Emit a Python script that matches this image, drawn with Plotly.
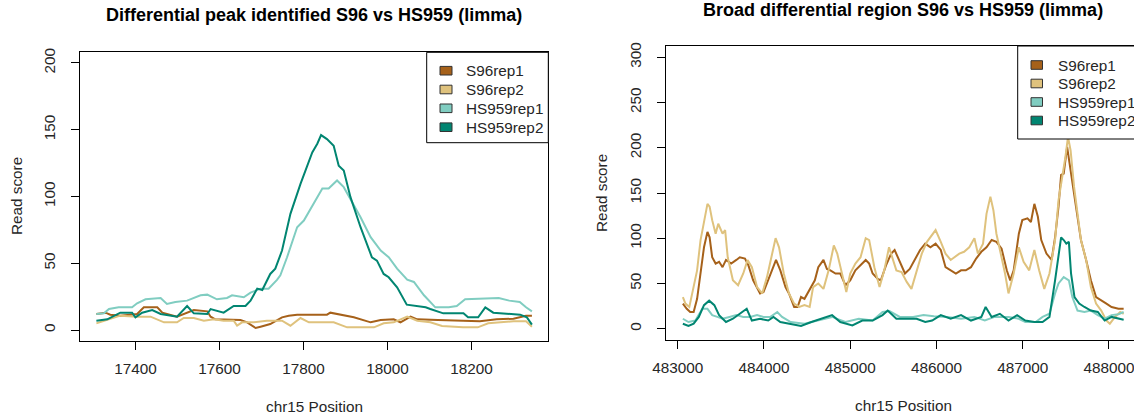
import plotly.graph_objects as go

# ---------------- data: left panel (differential peak) ----------------
left_title = "Differential peak identified S96 vs HS959 (limma)"
right_title = "Broad differential region S96 vs HS959 (limma)"
series_names = ["S96rep1", "S96rep2", "HS959rep1", "HS959rep2"]
series_colors = ["#A6611A", "#DFC27D", "#80CDC1", "#018571"]

l_s1_x = [17307, 17329, 17340, 17364, 17404, 17420, 17452, 17464, 17499, 17523, 17539, 17571, 17579, 17590,
          17650, 17666, 17686, 17698, 17721, 17749, 17765, 17785, 17856, 17864, 17888, 17920, 17960, 17984,
          18015, 18031, 18055, 18071, 18120, 18190, 18220, 18260, 18300, 18330, 18344]
l_s1_y = [12, 13, 11.5, 10.75, 12, 17, 17, 13, 10, 13, 15, 14, 10, 8,
          7.5, 5.75, 1.5, 2.5, 4.5, 9.5, 10.75, 11.5, 11.5, 13, 11.5, 9.5, 5.75, 7.5,
          8, 5.75, 10, 8, 7.5, 6.5, 6.5, 8, 8.5, 10.75, 10.75]

l_s2_x = [17307, 17340, 17364, 17404, 17436, 17468, 17499, 17515, 17539, 17563, 17587, 17610, 17634, 17642,
          17654, 17682, 17713, 17749, 17769, 17793, 17813, 17872, 17904, 17968, 17991, 18015, 18047, 18071,
          18102, 18130, 18180, 18215, 18240, 18300, 18330, 18344]
l_s2_y = [5, 8, 10.75, 10, 10, 5.75, 5.75, 9, 9, 7, 8, 7, 7, 3.25,
          5.75, 5.75, 7, 7, 3.25, 9, 5.75, 5.75, 2, 2, 5, 5.75, 10, 7,
          5.75, 3, 2, 2, 5, 6.5, 6.5, 2.5]

l_h1_x = [17307, 17325, 17337, 17360, 17392, 17404, 17424, 17460, 17475, 17495, 17523, 17555, 17571, 17594,
          17618, 17630, 17658, 17674, 17698, 17717, 17737, 17745, 17761, 17785, 17801, 17825, 17845, 17860,
          17880, 17896, 17912, 17936, 17960, 17984, 18003, 18023, 18047, 18063, 18087, 18114, 18146, 18165,
          18185, 18230, 18265, 18290, 18315, 18330, 18344]
l_h1_y = [12, 12.5, 15.75, 17, 17, 20, 23, 24, 19.5, 21, 22, 26, 26.5, 23,
          24, 26, 24.5, 28, 31, 31, 37.5, 41, 54.5, 77, 82, 94.5, 106, 106,
          112, 107, 98, 84.5, 69.5, 59.5, 54.5, 46, 37.75, 36, 26, 17, 17, 18,
          23, 23.5, 24, 22, 21, 17, 14]

l_h2_x = [17307, 17333, 17364, 17392, 17400, 17416, 17440, 17460, 17499, 17523, 17539, 17571, 17579, 17610,
          17634, 17662, 17674, 17690, 17702, 17721, 17733, 17749, 17769, 17793, 17821, 17833, 17842, 17856,
          17872, 17884, 17896, 17912, 17936, 17963, 17975, 17991, 18003, 18023, 18046, 18071, 18091, 18102,
          18114, 18133, 18181, 18192, 18216, 18233, 18252, 18284, 18316, 18332, 18344]
l_h2_y = [7, 8, 13, 13, 9.5, 13, 15, 12, 10, 18, 12.5, 12, 15.7, 13,
          18, 18, 22, 31, 30, 42, 46, 59.5, 87, 109.5, 133, 139.5, 146, 143,
          138, 123, 119.5, 99.5, 77, 54.5, 52, 42, 39.5, 32, 19, 17.75, 17, 15.75,
          14.5, 12.5, 12.5, 9.5, 9.5, 17, 13, 12, 11.5, 9.5, 4]

left_xticks = [17400, 17600, 17800, 18000, 18200]
left_yticks = [0, 50, 100, 150, 200]

# ---------------- data: right panel (broad region) ----------------
r_s1_x = [483060, 483105, 483145, 483185, 483225, 483265, 483305, 483345, 483370, 483400, 483440, 483480,
          483520, 483560, 483620, 483680, 483720, 483780, 483820, 483875, 483955, 483995, 484050, 484110,
          484140, 484190, 484250, 484290, 484350, 484390, 484430, 484470, 484530, 484590, 484630, 484690,
          484730, 484770, 484830, 484885, 484945, 485000, 485060, 485120, 485180, 485220, 485260, 485320,
          485355, 485415, 485475, 485515, 485575, 485635, 485690, 485750, 485810, 485870, 485930, 485990,
          486050, 486105, 486165, 486225, 486285, 486340, 486400, 486460, 486520, 486580, 486640, 486695,
          486755, 486815, 486855, 486895, 486955, 486995, 487055, 487095, 487135, 487175, 487215, 487275,
          487335, 487375, 487415, 487445, 487475, 487515, 487555, 487595, 487635, 487675, 487735, 487790,
          487850, 487910, 487970, 488030, 488110, 488170]
r_s1_y = [27.7, 22, 18.5, 18.5, 33, 61, 90, 107, 101, 79, 72, 74,
          68, 76, 72, 76, 79, 77.5, 70, 53.5, 39, 40.5, 53.5, 68,
          76, 64.5, 46, 39, 24, 24, 35, 33, 44, 53.5, 68, 76,
          66, 64.5, 61, 61, 48, 53.5, 64.5, 70, 76, 72, 61, 55,
          53.5, 70, 83, 87, 74, 61, 66, 76, 87, 94, 90, 94,
          87, 68, 64.5, 61, 64.5, 64.5, 68, 77.5, 85, 90, 98, 96,
          88.5, 64.5, 53.5, 64.5, 105, 120, 122, 118, 138, 124, 98, 83,
          76, 101, 135, 170, 171.5, 201, 175, 149.5, 120, 98, 76, 53.5,
          35, 31, 27.7, 24, 22, 22]

r_s2_x = [483060, 483090, 483135, 483175, 483225, 483265, 483305, 483345, 483370, 483400, 483440, 483470,
          483520, 483550, 483580, 483640, 483700, 483760, 483810, 483860, 483920, 483980, 484035, 484095,
          484135, 484175, 484230, 484290, 484350, 484410, 484470, 484530, 484570, 484630, 484690, 484750,
          484810, 484850, 484905, 484955, 485000, 485060, 485120, 485180, 485220, 485280, 485340, 485395,
          485450, 485495, 485535, 485595, 485655, 485710, 485770, 485830, 485890, 485930, 485990, 486050,
          486105, 486165, 486205, 486265, 486320, 486380, 486440, 486480, 486540, 486580, 486625, 486660,
          486695, 486755, 486795, 486835, 486895, 486955, 487010, 487075, 487135, 487190, 487250, 487310,
          487375, 487415, 487455, 487495, 487525, 487555, 487595, 487635, 487675, 487735, 487790, 487850,
          487910, 487970, 488010, 488070, 488130, 488170]
r_s2_y = [35, 27.7, 24, 44, 64.5, 98, 118, 138, 135, 120, 105, 116,
          105, 109, 79, 53.5, 48, 61, 76, 68, 46, 39, 57, 83,
          100, 90, 61, 39, 27.7, 24, 26, 24, 46, 50, 44, 64.5,
          92, 83, 61, 40.5, 61, 72, 79, 100, 98, 68, 46, 64.5,
          90, 76, 64.5, 62.7, 51.7, 44, 64.5, 83, 96, 101, 109, 96,
          83, 76, 79, 83, 85, 90, 100, 83, 94, 127, 146, 131,
          105, 79, 61, 39, 61, 90, 74, 64.5, 87, 64.5, 44, 61,
          98, 142, 164, 190, 212, 197, 157, 124, 98, 76, 46, 27.7,
          20, 9, 5.5, 13, 18.5, 16.5]

r_h1_x = [483060, 483125, 483205, 483285, 483345, 483400, 483460, 483520, 483600, 483680, 483760, 483840,
          483920, 483995, 484075, 484155, 484210, 484310, 484470, 484630, 484790, 484945, 485100, 485260,
          485375, 485455, 485575, 485730, 485850, 485970, 486125, 486285, 486440, 486560, 486675, 486835,
          486955, 487030, 487150, 487230, 487310, 487375, 487415, 487475, 487535, 487575, 487635, 487715,
          487790, 487870, 487950, 488030, 488110, 488170]
r_h1_y = [11, 7.4, 9, 22, 22, 15, 13, 11, 13, 15, 13, 13,
          15, 13, 13, 18.5, 13, 7.4, 5.5, 9, 13, 7.4, 11, 9,
          18.5, 19.5, 13, 13, 15, 13.7, 13, 11, 13, 9, 13, 13,
          11, 7.4, 7.4, 13, 16.5, 39, 50, 57, 53.5, 35, 20, 18.5,
          20, 15, 11, 15, 16, 18.5]

r_h2_x = [483060, 483125, 483185, 483245, 483305, 483365, 483425, 483480, 483560, 483640, 483720, 483800,
          483860, 483955, 484050, 484110, 484190, 484290, 484430, 484550, 484665, 484790, 484885, 485025,
          485140, 485260, 485375, 485435, 485535, 485655, 485770, 485870, 485950, 486050, 486165, 486285,
          486400, 486520, 486570, 486640, 486735, 486835, 486935, 487030, 487135, 487230, 487310, 487375,
          487415, 487445, 487475, 487505, 487535, 487560, 487600, 487655, 487715, 487790, 487870, 487950,
          488030, 488110, 488170]
r_h2_y = [5.5, 3, 5.5, 13, 26, 31, 26, 15, 7.4, 11, 16.5, 22,
          9, 11, 9, 13, 7.4, 5.5, 3, 7.4, 11, 15, 7.4, 3.7,
          9, 9, 15, 20, 11, 11, 11, 7.4, 9, 15, 11, 15,
          9, 13, 24, 13, 16.5, 9, 15, 9, 7.4, 7.4, 13, 53.5,
          83, 101, 98, 94, 96, 61, 35, 27.7, 24, 20, 18.5, 9,
          13, 11, 10]

right_xticks = [483000, 484000, 485000, 486000, 487000, 488000]
right_yticks = [0, 50, 100, 150, 200, 250, 300]

# ---------------- figure ----------------
W, H = 1134, 417
FONT = "Arial, Liberation Sans, sans-serif"
TXT = "#262626"
FS = 15.3


def px(x):
    return x / W


def py(y):
    return 1 - y / H


fig = go.Figure()
left_data = [(l_s1_x, l_s1_y), (l_s2_x, l_s2_y), (l_h1_x, l_h1_y), (l_h2_x, l_h2_y)]
right_data = [(r_s1_x, r_s1_y), (r_s2_x, r_s2_y), (r_h1_x, r_h1_y), (r_h2_x, r_h2_y)]
for (xs, ys), name, col in zip(left_data, series_names, series_colors):
    fig.add_trace(go.Scatter(x=xs, y=ys, mode="lines", name=name, line=dict(color=col, width=2),
                             xaxis="x", yaxis="y", showlegend=False))
for (xs, ys), name, col in zip(right_data, series_names, series_colors):
    fig.add_trace(go.Scatter(x=xs, y=ys, mode="lines", name=name, line=dict(color=col, width=2),
                             xaxis="x2", yaxis="y2", showlegend=False))

axis_common = dict(showgrid=False, zeroline=False, showline=True, linecolor="black", linewidth=1,
                   ticks="outside", ticklen=8, tickwidth=1, tickcolor="black", automargin=False,
                   ticklabeloverflow="allow",
                   tickfont=dict(family=FONT, size=FS, color=TXT))

fig.update_layout(
    template="none",
    width=W, height=H, margin=dict(l=0, r=0, t=0, b=0, pad=0),
    paper_bgcolor="white", plot_bgcolor="white",
    font=dict(family=FONT, color=TXT),
    xaxis=dict(domain=[px(80), px(548.3)], range=[17268, 18383], anchor="y", mirror=True,
               tickvals=left_xticks, ticktext=[str(v) for v in left_xticks], ticklabelstandoff=6, **axis_common),
    yaxis=dict(domain=[py(340.7), py(52.3)], range=[-8, 208], anchor="x", mirror=True,
               tickvals=left_yticks, ticktext=[str(v) for v in left_yticks], tickangle=-90,
               ticklabelstandoff=10, **axis_common),
    xaxis2=dict(domain=[px(665.7), 1], range=[482861, 488290], anchor="y2", mirror=True,
                tickvals=right_xticks, ticktext=[str(v) for v in right_xticks], ticklabelstandoff=6,
                **axis_common),
    yaxis2=dict(domain=[py(340), py(46)], range=[-12.5, 312.5], anchor="x2", mirror=False,
                tickvals=right_yticks, ticktext=[str(v) for v in right_yticks], tickangle=-90,
                ticklabelstandoff=10, **axis_common),
)

ann = []
# titles
ann.append(dict(text="<b>" + left_title + "</b>", x=px(314), y=py(15.5), xref="paper", yref="paper",
                showarrow=False, xanchor="center", yanchor="middle", font=dict(family=FONT, size=18, color="black")))
ann.append(dict(text="<b>" + right_title + "</b>", x=px(903), y=py(10.5), xref="paper", yref="paper",
                showarrow=False, xanchor="center", yanchor="middle", font=dict(family=FONT, size=18, color="black")))
# axis titles
for cx, cy in [(314, 406), (903, 405.5)]:
    ann.append(dict(text="chr15 Position", x=px(cx), y=py(cy), xref="paper", yref="paper", showarrow=False,
                    xanchor="center", yanchor="middle", font=dict(family=FONT, size=FS, color=TXT)))
for cx, cy in [(16.5, 196.5), (601, 193)]:
    ann.append(dict(text="Read score", x=px(cx), y=py(cy), xref="paper", yref="paper", showarrow=False,
                    textangle=-90, xanchor="center", yanchor="middle", font=dict(family=FONT, size=FS, color=TXT)))

shapes = []
# legends (drawn manually, R style)
legend_specs = [
    dict(box=(426.7, 52.3, 548.3, 142.7), sw_x=(440, 452), ys=[70.7, 89.5, 108.3, 127.2], tx=464.3),
    dict(box=(1017.7, 46, 1140, 139), sw_x=(1031, 1042.5), ys=[65, 83.5, 102, 120.5], tx=1056),
]
for spec in legend_specs:
    x0, y0, x1, y1 = spec["box"]
    shapes.append(dict(type="rect", xref="paper", yref="paper", x0=px(x0), x1=px(x1), y0=py(y1), y1=py(y0),
                       line=dict(color="black", width=1), fillcolor="white", layer="above"))
    for yc, col, name in zip(spec["ys"], series_colors, series_names):
        shapes.append(dict(type="rect", xref="paper", yref="paper", x0=px(spec["sw_x"][0]), x1=px(spec["sw_x"][1]),
                           y0=py(yc + 4.3), y1=py(yc - 4.3), line=dict(color="#333333", width=1),
                           fillcolor=col, layer="above"))
        ann.append(dict(text=name, x=px(spec["tx"]), y=py(yc), xref="paper", yref="paper", showarrow=False,
                        xanchor="left", yanchor="middle", font=dict(family=FONT, size=FS, color=TXT)))

fig.update_layout(annotations=ann, shapes=shapes)
fig.write_html("out.html")
